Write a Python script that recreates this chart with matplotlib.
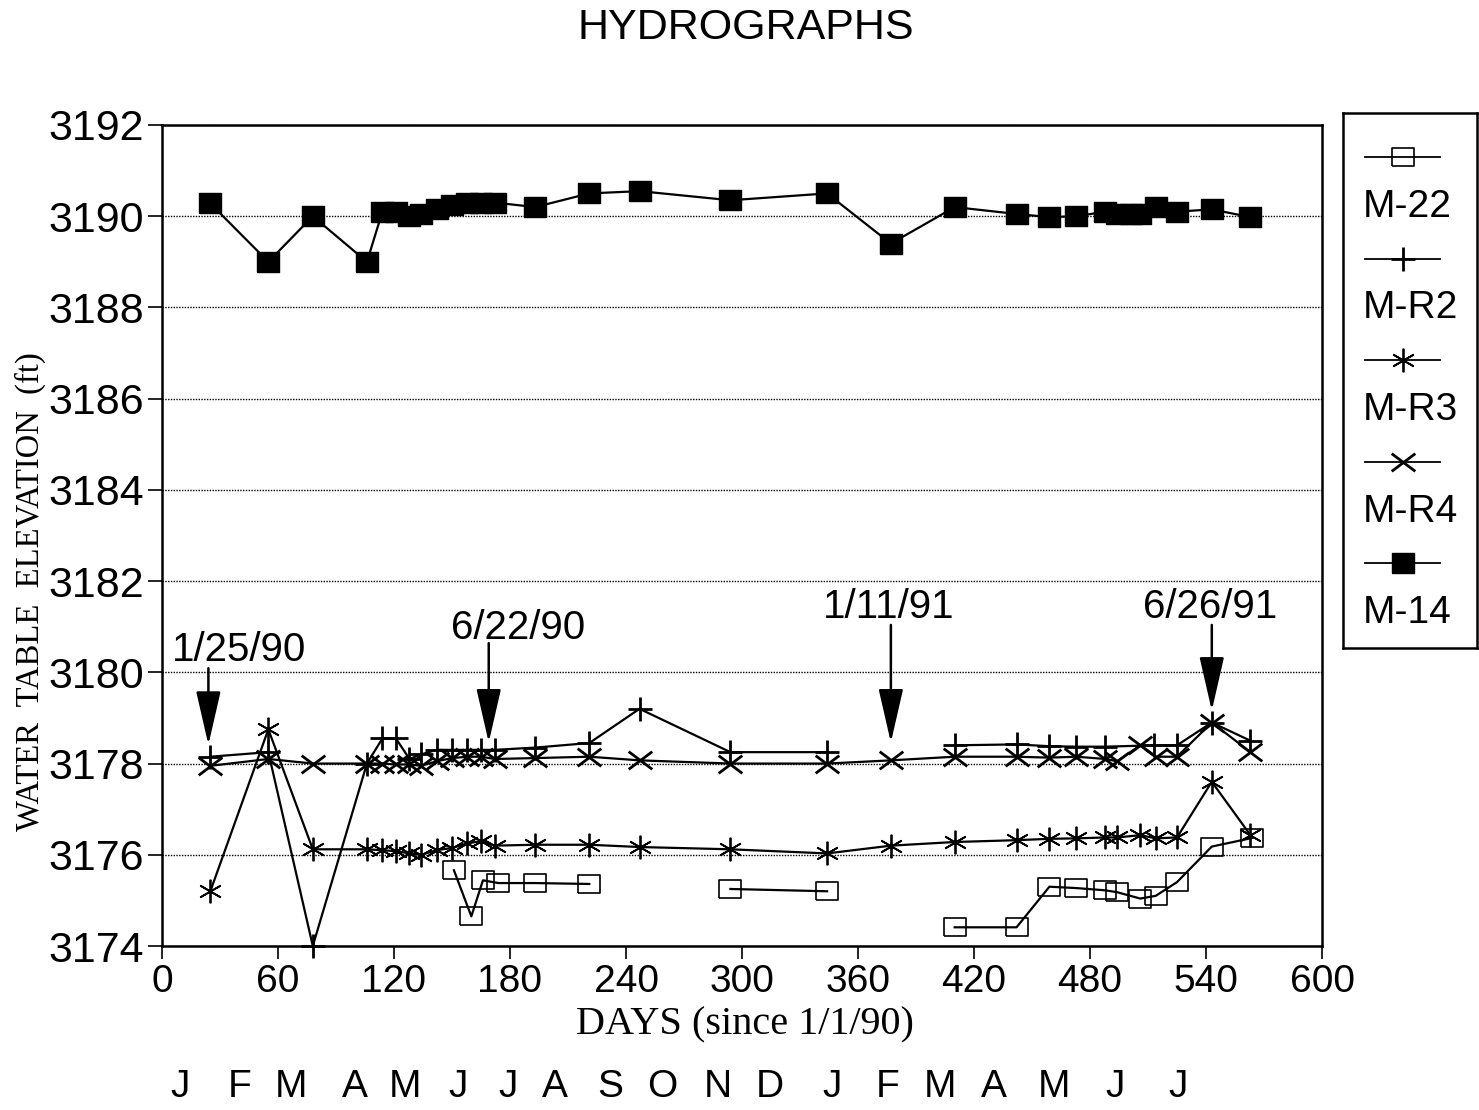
import numpy as np
import matplotlib
matplotlib.use("Agg")
import matplotlib.pyplot as plt
import matplotlib.transforms as mtransforms
from matplotlib.path import Path

nan = np.nan

# --- data (days since 1/1/90, elevation in ft) ---
days_m22 = [151, 160, 166, 174, 193, 221, 250, 294, 344, 380, 410, 442, 459, 473, 488, 494, 506, 514, 525, 543, 564]
elev_m22 = [3175.66, 3174.65, 3175.44, 3175.38, 3175.38, 3175.36, nan, 3175.25, 3175.2, nan,
            3174.41, 3174.41, 3175.3, 3175.27, 3175.22, 3175.18, 3175.04, 3175.1, 3175.4, 3176.18, 3176.37]

days_mr2 = [25, 55, 78, 106, 114, 121, 128, 134, 142, 150, 158, 165, 172, 193, 221, 247, 294, 344, 377,
            410, 442, 459, 473, 488, 513, 525, 543, 563]
elev_mr2 = [3178.15, 3178.25, 3174.0, 3178.0, 3178.55, 3178.55, 3178.1, 3178.2, 3178.3, 3178.3, 3178.3,
            3178.3, 3178.3, 3178.35, 3178.45, 3179.2, 3178.25, 3178.25, nan,
            3178.4, 3178.42, 3178.38, 3178.37, 3178.37, 3178.4, 3178.4, 3178.9, 3178.5]

days_mr3 = [25, 55, 78, 106, 114, 121, 128, 134, 142, 150, 158, 165, 172, 193, 221, 247, 294, 344, 377,
            410, 442, 459, 473, 488, 494, 506, 514, 525, 543, 563]
elev_mr3 = [3175.2, 3178.75, 3176.12, 3176.12, 3176.1, 3176.08, 3176.03, 3176.0, 3176.1, 3176.15, 3176.25,
            3176.3, 3176.2, 3176.22, 3176.22, 3176.17, 3176.12, 3176.03, 3176.2,
            3176.28, 3176.32, 3176.35, 3176.36, 3176.38, 3176.38, 3176.43, 3176.36, 3176.38, 3177.6, 3176.43]

days_mr4 = [25, 55, 78, 106, 114, 121, 128, 134, 142, 150, 158, 165, 172, 193, 221, 247, 294, 344, 377,
            410, 442, 459, 473, 488, 494, 506, 514, 525, 543, 563]
elev_mr4 = [3177.95, 3178.1, 3178.0, 3178.0, 3178.0, 3177.98, 3177.98, 3177.95, 3178.05, 3178.12, 3178.15,
            3178.15, 3178.1, 3178.12, 3178.15, 3178.07, 3178.0, 3178.0, 3178.07,
            3178.15, 3178.15, 3178.13, 3178.15, 3178.1, 3178.05, 3178.4, 3178.15, 3178.15, 3178.9, 3178.25]

days_m14 = [25, 55, 78, 106, 114, 121, 128, 134, 142, 150, 158, 165, 172, 193, 221, 247, 294, 344, 377,
            410, 442, 459, 473, 488, 494, 501, 506, 514, 525, 543, 563]
elev_m14 = [3190.28, 3189.0, 3190.0, 3189.0, 3190.1, 3190.1, 3190.0, 3190.05, 3190.15, 3190.25, 3190.3,
            3190.3, 3190.3, 3190.2, 3190.5, 3190.55, 3190.35, 3190.5, 3189.4,
            3190.2, 3190.05, 3189.98, 3190.0, 3190.1, 3190.05, 3190.05, 3190.05, 3190.2, 3190.1, 3190.15, 3189.98]

# arrows: label, day of arrow, label position, arrow start / tip elevation
event_labels = ["1/25/90", "6/22/90", "1/11/91", "6/26/91"]
event_days = [24, 169, 377, 543]
event_text_x = [40, 184, 376, 542]
event_text_y = [3180.5, 3180.97, 3181.43, 3181.43]
event_start = [3180.15, 3180.7, 3181.1, 3181.1]
event_tip = [3178.35, 3178.4, 3178.4, 3179.1]

months = ["J", "F", "M", "A", "M", "J", "J", "A", "S", "O", "N", "D", "J", "F", "M", "A", "M", "J", "J"]
month_x = [9.3, 40.3, 66.7, 99.8, 125.7, 153, 179, 203, 231.7, 259, 287.6, 314.5, 346.6, 375.5,
           402.4, 430.3, 461.4, 493, 525.5]

x_ticks = np.arange(0, 601, 60)
y_ticks = np.arange(3174, 3193, 2)

SANS = ["Liberation Sans", "DejaVu Sans"]
SERIF = ["Liberation Serif", "DejaVu Serif"]

# marker shapes
rect_open = [(-1, -0.78), (1, -0.78), (1, 0.78), (-1, 0.78), (-1, -0.78)]
rect_full = [(-1, -0.9), (1, -0.9), (1, 0.9), (-1, 0.9), (-1, -0.9)]
x_flat = Path([(-1, -0.75), (1, 0.75), (-1, 0.75), (1, -0.75)],
              [Path.MOVETO, Path.LINETO, Path.MOVETO, Path.LINETO])

series = [
    ("M-22", days_m22, elev_m22, dict(marker=rect_open, ms=16, mfc="none", mew=1.2)),
    ("M-R2", days_mr2, elev_mr2, dict(marker="+", ms=17, mew=2.0)),
    ("M-R3", days_mr3, elev_mr3, dict(marker=(6, 2, 0), ms=17, mew=1.3)),
    ("M-R4", days_mr4, elev_mr4, dict(marker=x_flat, ms=17, mew=2.0)),
    ("M-14", days_m14, elev_m14, dict(marker=rect_full, ms=16, mfc="black", mew=1.0)),
]

fig = plt.figure(figsize=(14.79, 11.10), dpi=100)
ax = fig.add_axes([162 / 1479, 1 - 946 / 1110, 1160 / 1479, 821 / 1110])

for name, d, v, style in series:
    ax.plot(d, v, color="black", lw=1.6, mec="black", label=name, clip_on=False, **style)

ax.set_xlim(0, 600)
ax.set_ylim(3174, 3192)
ax.set_xticks(x_ticks)
ax.set_yticks(y_ticks)
ax.set_xticklabels([str(t) for t in x_ticks], family=SANS, fontsize=28)
ax.set_yticklabels([str(t) for t in y_ticks], family=SANS, fontsize=31)
ax.tick_params(axis="y", direction="out", length=10, width=1.2, pad=3)
ax.tick_params(axis="x", direction="out", length=9, width=1.2, pad=4)
for sp in ax.spines.values():
    sp.set_linewidth(1.8)
ax.yaxis.grid(True, linestyle=(0, (1, 1)), color="black", lw=1.0)

# event arrows
for lab, xd, tx, ty, y0, y1 in zip(event_labels, event_days, event_text_x, event_text_y,
                                   event_start, event_tip):
    ax.annotate("", xy=(xd, y1), xytext=(xd, y0),
                arrowprops=dict(arrowstyle="-|>,head_length=2.4,head_width=0.55",
                                mutation_scale=14, color="black", lw=1.8))
    ax.text(tx, ty, lab, family=SANS, fontsize=29, ha="center", va="center")

# month letters under the day axis
month_trans = mtransforms.blended_transform_factory(ax.transData, fig.transFigure)
for m, mx in zip(months, month_x):
    ax.text(mx, 1 - 1087 / 1110, m, transform=month_trans, family=SANS, fontsize=28,
            ha="center", va="center", clip_on=False)

fig.text(746 / 1479, 1 - 28 / 1110, "HYDROGRAPHS", family=SANS, fontsize=31, ha="center", va="center")
fig.text(745 / 1479, 1 - 1025 / 1110, "DAYS (since 1/1/90)", family=SERIF, fontsize=29,
         ha="center", va="center")
fig.text(30 / 1479, 1 - 592 / 1110, "WATER  TABLE  ELEVATION  (ft)", family=SERIF, fontsize=23.5,
         rotation=90, ha="center", va="center")

# legend box: sample line above each name
lax = fig.add_axes([1343 / 1479, 1 - 648 / 1110, 134 / 1479, 535 / 1110])
lax.set_xlim(0, 134)
lax.set_ylim(535, 0)
lax.set_xticks([])
lax.set_yticks([])
for sp in lax.spines.values():
    sp.set_linewidth(1.8)
for i, (name, d, v, style) in enumerate(series):
    y = 44 + i * 101.5
    lax.plot([22, 97], [y, y], color="black", lw=1.3)
    lax.plot([59.5], [y], color="black", lw=0, mec="black", **style)
    lax.text(20, y + 50, name, family=SANS, fontsize=28, ha="left", va="center")

fig.savefig("out.png", dpi=100)
